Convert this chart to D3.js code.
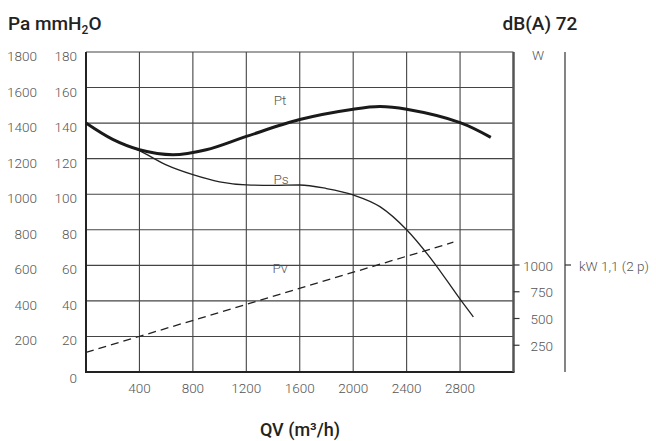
<!DOCTYPE html>
<html><head><meta charset="utf-8">
<script src="https://cdn.jsdelivr.net/npm/d3@7"></script>
<style>body{margin:0;background:#fff}svg{display:block;font-family:Roboto,"DejaVu Sans",sans-serif}</style>
</head><body><svg id="c" width="656" height="441"></svg>
<script>
const xTicks = [400, 800, 1200, 1600, 2000, 2400, 2800];
const yTicksMm = [0, 20, 40, 60, 80, 100, 120, 140, 160, 180];
const yTicksPa = [200, 400, 600, 800, 1000, 1200, 1400, 1600, 1800];
const wTicks = [250, 500, 750, 1000];
const ptQ = [0, 200, 400, 650, 900, 1200, 1600, 2000, 2200, 2400, 2800, 3030];
const ptV = [140, 130.8, 125, 122.2, 125, 132.5, 142, 147.8, 149.3, 147.8, 140.3, 132];
const psQ = [0, 200, 400, 600, 800, 1000, 1200, 1400, 1600, 1800, 2000, 2200, 2400, 2600, 2800, 2900];
const psV = [140, 130.8, 124.5, 116.5, 111, 107, 105.3, 105, 105.2, 103.2, 99.6, 93, 80, 62, 41, 31];
const pvQ = [0, 2750];
const pvV = [11, 73];

const svg = d3.select("#c");
const x = d3.scaleLinear().domain([0, 3200]).range([86, 513.5]);
const y = d3.scaleLinear().domain([0, 180]).range([372, 52]);
const yW = d3.scaleLinear().domain([0, 1000]).range([372, 265]);

// grid
const g = svg.append("g");
g.selectAll(".vx").data(xTicks).join("line")
  .attr("x1", d => x(d)).attr("x2", d => x(d)).attr("y1", y(180)).attr("y2", y(0))
  .attr("stroke", "#444").attr("stroke-width", 1.1);
g.selectAll(".hy").data(yTicksMm.filter(d => d > 0)).join("line")
  .attr("x1", x(0)).attr("x2", x(3200)).attr("y1", d => y(d)).attr("y2", d => y(d))
  .attr("stroke", "#444").attr("stroke-width", 1.1);
// border
g.append("line").attr("x1", x(0)).attr("x2", x(0)).attr("y1", y(180)).attr("y2", y(0)).attr("stroke", "#222").attr("stroke-width", 2);
g.append("line").attr("x1", x(0)-1).attr("x2", x(3200)+1).attr("y1", y(0)).attr("y2", y(0)).attr("stroke", "#222").attr("stroke-width", 2);
g.append("line").attr("x1", x(3200)).attr("x2", x(3200)).attr("y1", y(180)).attr("y2", y(0)).attr("stroke", "#555").attr("stroke-width", 2.5);

// labels left
const lab = svg.append("g").attr("fill", "#555").attr("font-size", 13.5).attr("font-weight", 300);
lab.selectAll(".pa").data(yTicksPa).join("text")
  .attr("x", 37).attr("y", d => y(d / 10) + 9).attr("text-anchor", "end").text(d => d);
lab.selectAll(".mm").data(yTicksMm).join("text")
  .attr("x", 77).attr("y", d => y(d) + (d === 0 ? 11 : 9)).attr("text-anchor", "end").text(d => d);
lab.selectAll(".xq").data(xTicks).join("text")
  .attr("x", d => x(d)).attr("y", 393).attr("text-anchor", "middle").text(d => d);

// W axis
const wg = svg.append("g");
wg.selectAll("line").data(wTicks).join("line")
  .attr("x1", x(3200)).attr("x2", x(3200) + 6).attr("y1", d => yW(d)).attr("y2", d => yW(d))
  .attr("stroke", "#333").attr("stroke-width", 1.2);
lab.selectAll(".w").data(wTicks).join("text")
  .attr("x", 553).attr("y", d => yW(d) + 5.5).attr("text-anchor", "end").text(d => d);
lab.append("text").attr("x", 538).attr("y", 60).attr("text-anchor", "middle").text("W");

// kW line
svg.append("line").attr("x1", 565).attr("x2", 565).attr("y1", y(180)).attr("y2", y(0)).attr("stroke", "#333").attr("stroke-width", 1.2);
svg.append("line").attr("x1", 565).attr("x2", 571).attr("y1", yW(1000)).attr("y2", yW(1000)).attr("stroke", "#333").attr("stroke-width", 1.2);
lab.append("text").attr("x", 579).attr("y", yW(1000) + 5.5).text("kW 1,1 (2 p)");

// curves
const line = d3.line().x(d => x(d[0])).y(d => y(d[1])).curve(d3.curveMonotoneX);
const smooth = d3.line().x(d => x(d[0])).y(d => y(d[1])).curve(d3.curveCatmullRom.alpha(0.5));
svg.append("path").attr("d", line(psQ.map((q, i) => [q, psV[i]])))
  .attr("fill", "none").attr("stroke", "#222").attr("stroke-width", 1.3);
svg.append("path").attr("d", smooth(ptQ.map((q, i) => [q, ptV[i]])))
  .attr("fill", "none").attr("stroke", "#1a1a1a").attr("stroke-width", 3);
svg.append("path").attr("d", d3.line().x(d => x(d[0])).y(d => y(d[1]))(pvQ.map((q, i) => [q, pvV[i]])))
  .attr("fill", "none").attr("stroke", "#222").attr("stroke-width", 1.3).attr("stroke-dasharray", "8,5");

// curve labels
lab.append("text").attr("x", 280).attr("y", 105).attr("text-anchor", "middle").text("Pt");
lab.append("text").attr("x", 281).attr("y", 184).attr("text-anchor", "middle").text("Ps");
lab.append("text").attr("x", 280).attr("y", 273).attr("text-anchor", "middle").text("Pv");

// titles
const t1 = svg.append("text").attr("x", 8).attr("y", 30).attr("font-size", 19).attr("font-weight", 500).attr("fill", "#222");
t1.append("tspan").text("Pa mmH");
t1.append("tspan").attr("font-size", 12).attr("dy", 4).text("2");
t1.append("tspan").attr("dy", -4).text("O");
svg.append("text").attr("x", 540).attr("y", 30).attr("text-anchor", "middle").attr("font-size", 19).attr("font-weight", 500).attr("fill", "#222").text("dB(A) 72");
svg.append("text").attr("x", 300).attr("y", 436).attr("text-anchor", "middle").attr("font-size", 18).attr("font-weight", 500).attr("fill", "#222").text("QV (m³/h)");
</script></body></html>
